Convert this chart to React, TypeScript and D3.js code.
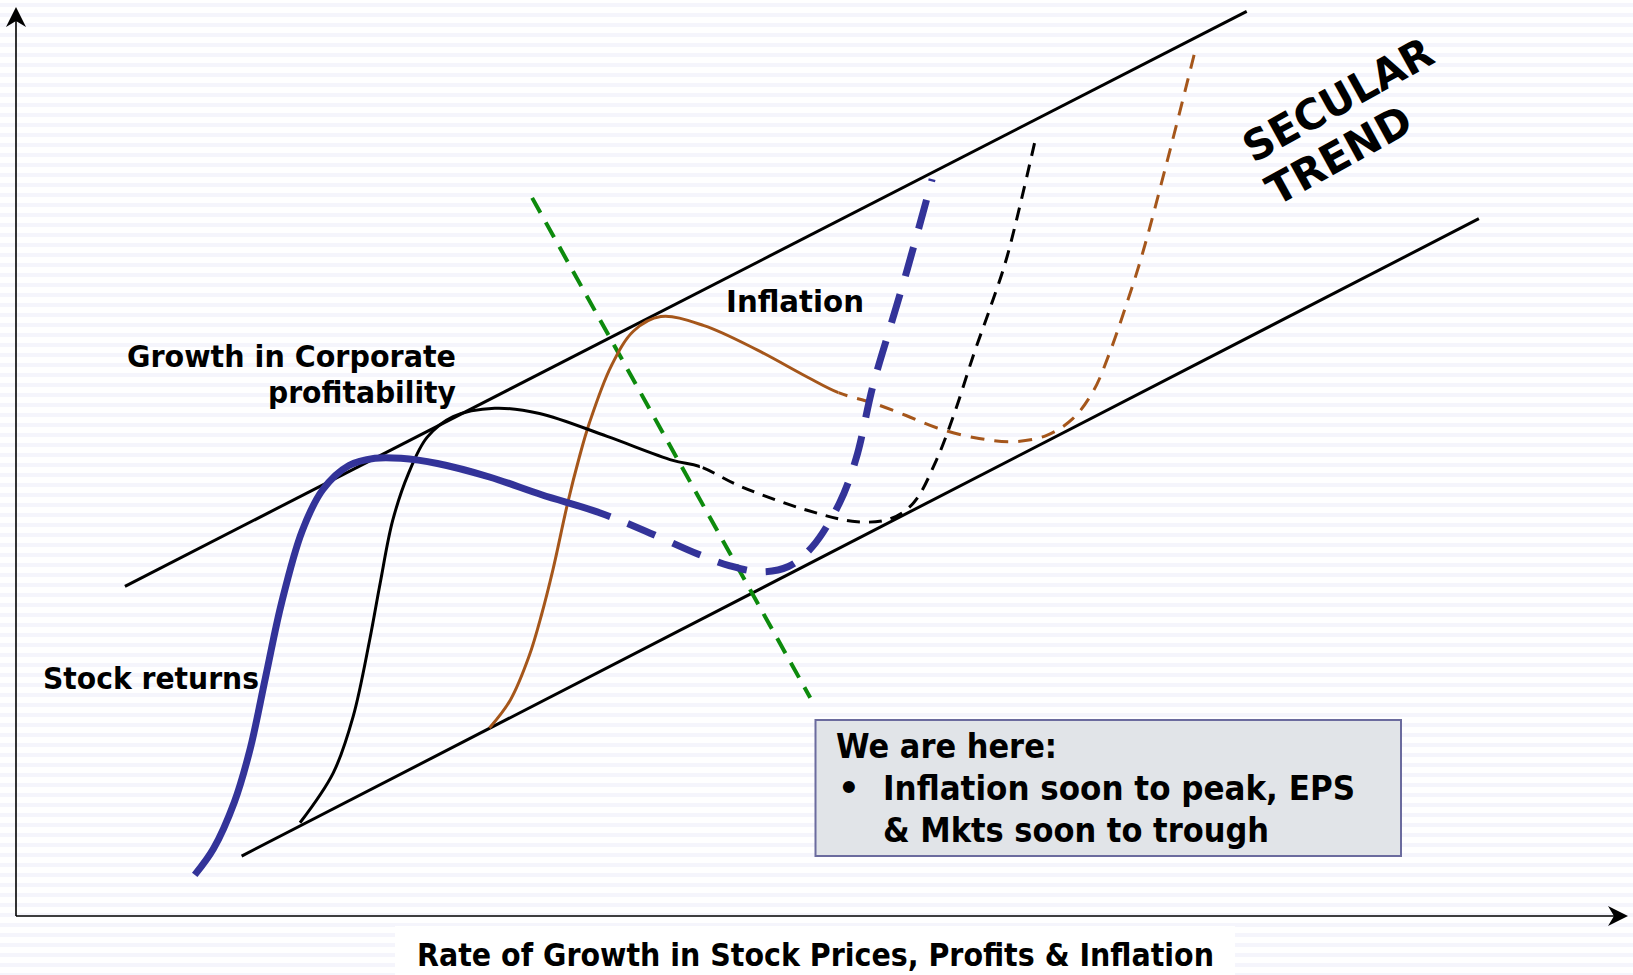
import * as d3 from "d3";

const W = 1633;
const H = 975;
const FONT = "'DejaVu Sans', Verdana, sans-serif";

// concept space: 0..100 on both axes
const PLOT = { left: 16, right: 1616, bottom: 916, top: 16 };

type Pt = [number, number];

const upperTrend: Pt[] = [[6.81, 36.63], [76.92, 100.51]];
const lowerTrend: Pt[] = [[14.1, 6.66], [91.43, 77.48]];
const turningLine: Pt[] = [[32.26, 79.79], [49.64, 24.25]];

const stockSolid: Pt[] = [
  [11.17, 4.57], [12.34, 7.47], [13.65, 12.67], [14.62, 18.46], [15.6, 26.56],
  [16.58, 34.66], [17.88, 42.76], [19.18, 47.39], [20.81, 50.05], [22.43, 50.86],
  [24.06, 50.86], [26.34, 50.28], [29.59, 48.78], [32.85, 46.81], [36.43, 44.84],
];
const stockDashed: Pt[] = [
  [39.36, 42.76], [42.61, 40.22], [44.57, 38.94], [46.52, 38.25],
  [48.28, 38.83], [49.77, 41.03], [51.47, 45.89], [52.51, 50.86], [53.55, 58.85],
  [54.66, 65.56], [55.7, 71.81], [57.26, 81.88],
];

const profitSolid: Pt[] = [
  [17.75, 10.36], [19.83, 15.91], [21.07, 22.16], [22.11, 30.73], [22.76, 36.98],
  [23.54, 43.92], [24.52, 49.13], [25.69, 53.18], [27.32, 55.49], [29.92, 56.42],
  [32.72, 55.84], [36.95, 53.29], [41.05, 50.63], [42.74, 49.94],
];
const profitDashed: Pt[] = [
  [45.28, 47.74], [49.45, 45.08], [52.57, 43.8], [54.66, 44.15],
  [56.09, 45.89], [57.52, 50.63], [58.69, 56.07], [59.86, 62.43], [60.97, 67.99],
  [61.95, 73.31], [63.77, 86.74],
];

const inflationSolid: Pt[] = [
  [29.59, 20.89], [30.9, 24.01], [32.07, 28.88], [32.85, 33.5], [33.56, 38.48],
  [34.48, 45.89], [35.19, 50.86], [35.84, 54.8], [37.2, 61.1], [38.6, 65.0],
  [40.3, 66.6], [43.0, 65.6], [46.32, 62.9], [49.45, 59.89], [51.4, 58.15],
];
const inflationDashed: Pt[] = [
  [53.55, 57.0], [55.63, 55.61], [57.58, 54.22], [60.19, 53.06],
  [62.47, 52.71], [64.42, 53.41], [66.05, 55.26], [67.35, 58.38], [68.32, 62.43],
  [69.3, 67.41], [70.34, 73.2], [71.91, 83.61], [73.66, 95.88],
];

const BLUE = "#333399";
const BROWN = "#a5561b";
const GREEN = "#0d8a0d";

const boxLines = ["We are here:", "Inflation soon to peak, EPS", "& Mkts soon to trough"];
const xAxisTitle = "Rate of Growth in Stock Prices, Profits & Inflation";

const series = [
  { id: "infl", solid: inflationSolid, dashed: inflationDashed, color: BROWN, width: 3, dash: "14 10" },
  { id: "prof", solid: profitSolid, dashed: profitDashed, color: "#000", width: 3, dash: "13 9" },
  { id: "stock", solid: stockSolid, dashed: stockDashed, color: BLUE, width: 7, dash: "30 19" },
];

export default function App() {
  const x = d3.scaleLinear().domain([0, 100]).range([PLOT.left, PLOT.right]);
  const y = d3.scaleLinear().domain([0, 100]).range([PLOT.bottom, PLOT.top]);

  const curve = d3
    .line<Pt>()
    .x((d) => x(d[0]))
    .y((d) => y(d[1]))
    .curve(d3.curveCatmullRom.alpha(0.5));
  const straight = d3
    .line<Pt>()
    .x((d) => x(d[0]))
    .y((d) => y(d[1]));

  const x0 = x(0);
  const y0 = y(0);

  return (
    <svg
      width={W}
      height={H}
      style={{ position: "absolute", left: 0, top: 0, display: "block" }}
      fontFamily={FONT}
      fontWeight="bold"
    >
      <defs>
        <pattern id="stripes" width="10" height="10" patternUnits="userSpaceOnUse">
          <rect width="10" height="10" fill="#ffffff" />
          <rect y="3" width="10" height="4" fill="#f5f5fc" />
        </pattern>
        {series.map((s) => {
          const cut = x(s.solid[s.solid.length - 1][0]);
          return (
            <g key={s.id}>
              <clipPath id={`${s.id}-solid`}>
                <rect x={0} y={0} width={cut} height={H} />
              </clipPath>
              <clipPath id={`${s.id}-dash`}>
                <rect x={cut} y={0} width={W - cut} height={H} />
              </clipPath>
            </g>
          );
        })}
      </defs>
      <rect width={W} height={H} fill="url(#stripes)" />

      {/* axes */}
      <line x1={x0} y1={y0} x2={x0} y2={14} stroke="#000" strokeWidth={1.6} />
      <path d={`M${x0},7 L${x0 + 10},27 L${x0},21 L${x0 - 10},27 Z`} fill="#000" />
      <line x1={x0} y1={y0} x2={1620} y2={y0} stroke="#000" strokeWidth={1.6} />
      <path d={`M1628,${y0} L1608,${y0 - 10} L1614,${y0} L1608,${y0 + 10} Z`} fill="#000" />

      <rect x={395} y={926} width={840} height={49} fill="#fff" />
      <text x={417} y={966} fontSize={31.5} textLength={797} lengthAdjust="spacingAndGlyphs">
        {xAxisTitle}
      </text>

      {/* secular trend channel */}
      <path d={straight(upperTrend) ?? ""} stroke="#000" strokeWidth={3} fill="none" />
      <path d={straight(lowerTrend) ?? ""} stroke="#000" strokeWidth={3} fill="none" />

      {/* turning point line */}
      <path
        d={straight(turningLine) ?? ""}
        stroke={GREEN}
        strokeWidth={4}
        strokeDasharray="17 11"
        fill="none"
      />

      {/* cycle curves: one smooth path, solid before the cut, dashed after */}
      {series.map((s) => {
        const d = curve([...s.solid, ...s.dashed]) ?? "";
        return (
          <g key={s.id} fill="none" stroke={s.color} strokeWidth={s.width}>
            <path d={d} clipPath={`url(#${s.id}-solid)`} />
            <path d={d} clipPath={`url(#${s.id}-dash)`} strokeDasharray={s.dash} />
          </g>
        );
      })}

      {/* labels */}
      <text x={456} y={367} fontSize={29.5} textAnchor="end" textLength={329} lengthAdjust="spacingAndGlyphs">
        Growth in Corporate
      </text>
      <text x={456} y={403} fontSize={29.5} textAnchor="end" textLength={188} lengthAdjust="spacingAndGlyphs">
        profitability
      </text>
      <text x={43} y={689} fontSize={31} textLength={216} lengthAdjust="spacingAndGlyphs">
        Stock returns
      </text>
      <text x={726} y={312} fontSize={31} textLength={138} lengthAdjust="spacingAndGlyphs">
        Inflation
      </text>

      <g fontSize={42}>
        <text
          transform="translate(1345,112.5) rotate(-29)"
          textAnchor="middle"
          textLength={210}
          lengthAdjust="spacingAndGlyphs"
        >
          SECULAR
        </text>
        <text
          transform="translate(1346,168) rotate(-29)"
          textAnchor="middle"
          textLength={159}
          lengthAdjust="spacingAndGlyphs"
        >
          TREND
        </text>
      </g>

      {/* note box */}
      <rect x={815.5} y={720} width={585.5} height={136} fill="#e1e4e8" stroke="#6b6b9e" strokeWidth={2} />
      <text x={836} y={758} fontSize={34} textLength={221} lengthAdjust="spacingAndGlyphs">
        {boxLines[0]}
      </text>
      <text x={838} y={800} fontSize={34}>
        •
      </text>
      <text x={883} y={800} fontSize={34} textLength={472} lengthAdjust="spacingAndGlyphs">
        {boxLines[1]}
      </text>
      <text x={883} y={842} fontSize={34} textLength={386} lengthAdjust="spacingAndGlyphs">
        {boxLines[2]}
      </text>
    </svg>
  );
}
